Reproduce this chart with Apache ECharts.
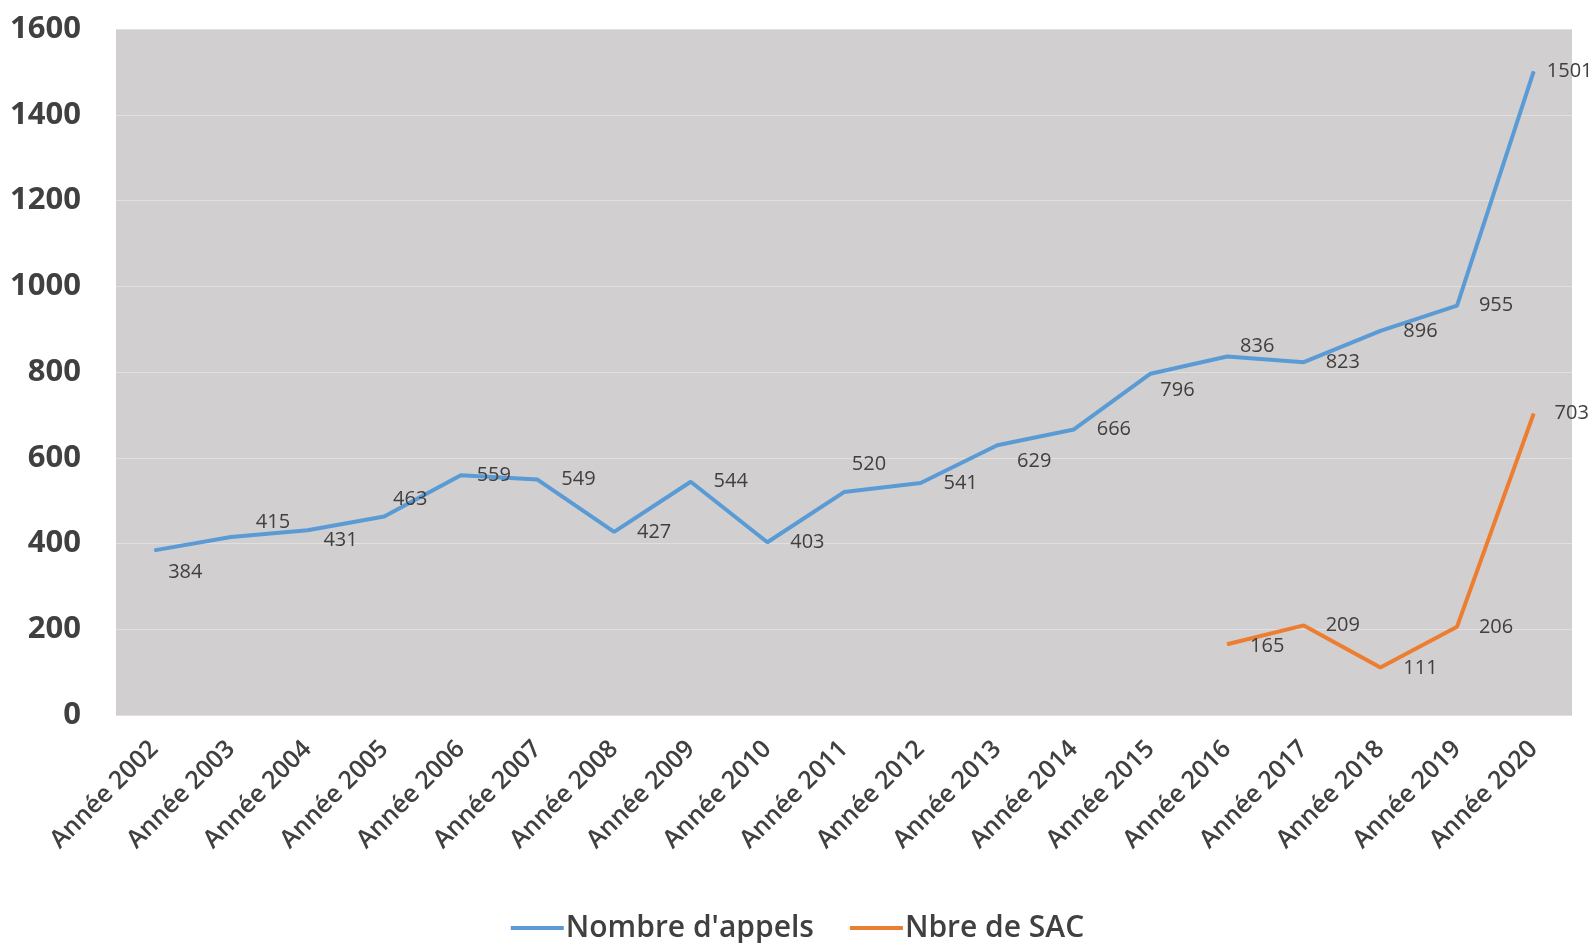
<!DOCTYPE html>
<html>
<head>
<meta charset="utf-8">
<script src="https://cdn.jsdelivr.net/npm/echarts@6/dist/echarts.min.js"></script>
<style>html,body{margin:0;padding:0;background:#fff}#c{width:1595px;height:943px}</style>
</head>
<body>
<div id="c"></div>
<script>
const categories = ["Année 2002","Année 2003","Année 2004","Année 2005","Année 2006","Année 2007","Année 2008","Année 2009","Année 2010","Année 2011","Année 2012","Année 2013","Année 2014","Année 2015","Année 2016","Année 2017","Année 2018","Année 2019","Année 2020"];
const appels = [384,415,431,463,559,549,427,544,403,520,541,629,666,796,836,823,896,955,1501];
const sac = [null,null,null,null,null,null,null,null,null,null,null,null,null,null,165,209,111,206,703];
const yTicks = {min:0, max:1600, interval:200};

// label placement offsets (pixels from point to label centre)
const appelsOffsets = [[31,22],[42,-15],[33,10],[26,-17],[33,0],[41,0],[40,0],[40,0],[40,0],[25,-28],[40,0],[37,16],[40,0],[27,17],[30,-10],[39,0],[40,0],[39,0],[36,0]];
const sacOffsets = [null,null,null,null,null,null,null,null,null,null,null,null,null,null,[40,2],[39,0],[40,1],[39,1],[38,0]];

function build(values, offsets){
  return values.map((v,i)=> v==null ? null : {value:v, label:{offset:offsets[i]}});
}
const labelStyle = {show:true, position:'inside', align:'center', verticalAlign:'middle', color:'#404040', fontSize:20, fontFamily:'Open Sans'};

const chart = echarts.init(document.getElementById('c'));
chart.setOption({
  animation:false,
  backgroundColor:'#ffffff',
  grid:{left:116, right:23, top:29, bottom:228, show:true, backgroundColor:'#d2cfd0', borderWidth:0},
  legend:{
    top: 908, left:'center',
    icon:'rect', itemWidth:53, itemHeight:4, itemGap:36,
    textStyle:{fontSize:30, fontWeight:600, color:'#404040', fontFamily:'Open Sans', padding:[0,0,0,-3]},
    data:["Nombre d'appels","Nbre de SAC"]
  },
  xAxis:{
    type:'category', data:categories, boundaryGap:true,
    axisLine:{show:false}, axisTick:{show:false},
    axisLabel:{rotate:45, margin:30, fontSize:25, fontWeight:600, color:'#404040', fontFamily:'Open Sans', interval:0}
  },
  yAxis:{
    type:'value', min:yTicks.min, max:yTicks.max, interval:yTicks.interval,
    axisLine:{show:false}, axisTick:{show:false},
    axisLabel:{margin:35, fontSize:31, fontWeight:'bold', color:'#404040', fontFamily:'Open Sans', formatter:(v)=>String(v)},
    splitLine:{lineStyle:{color:'#e2dfe0', width:1}}
  },
  series:[
    {name:"Nombre d'appels", type:'line', data:build(appels, appelsOffsets),
     symbol:'circle', symbolSize:1, showSymbol:true,
     lineStyle:{width:4, color:'#5b9bd5'}, itemStyle:{color:'#5b9bd5'},
     label:labelStyle},
    {name:"Nbre de SAC", type:'line', data:build(sac, sacOffsets),
     symbol:'circle', symbolSize:1, showSymbol:true, connectNulls:false,
     lineStyle:{width:4, color:'#ed7d31'}, itemStyle:{color:'#ed7d31'},
     label:labelStyle}
  ]
});
</script>
</body>
</html>
